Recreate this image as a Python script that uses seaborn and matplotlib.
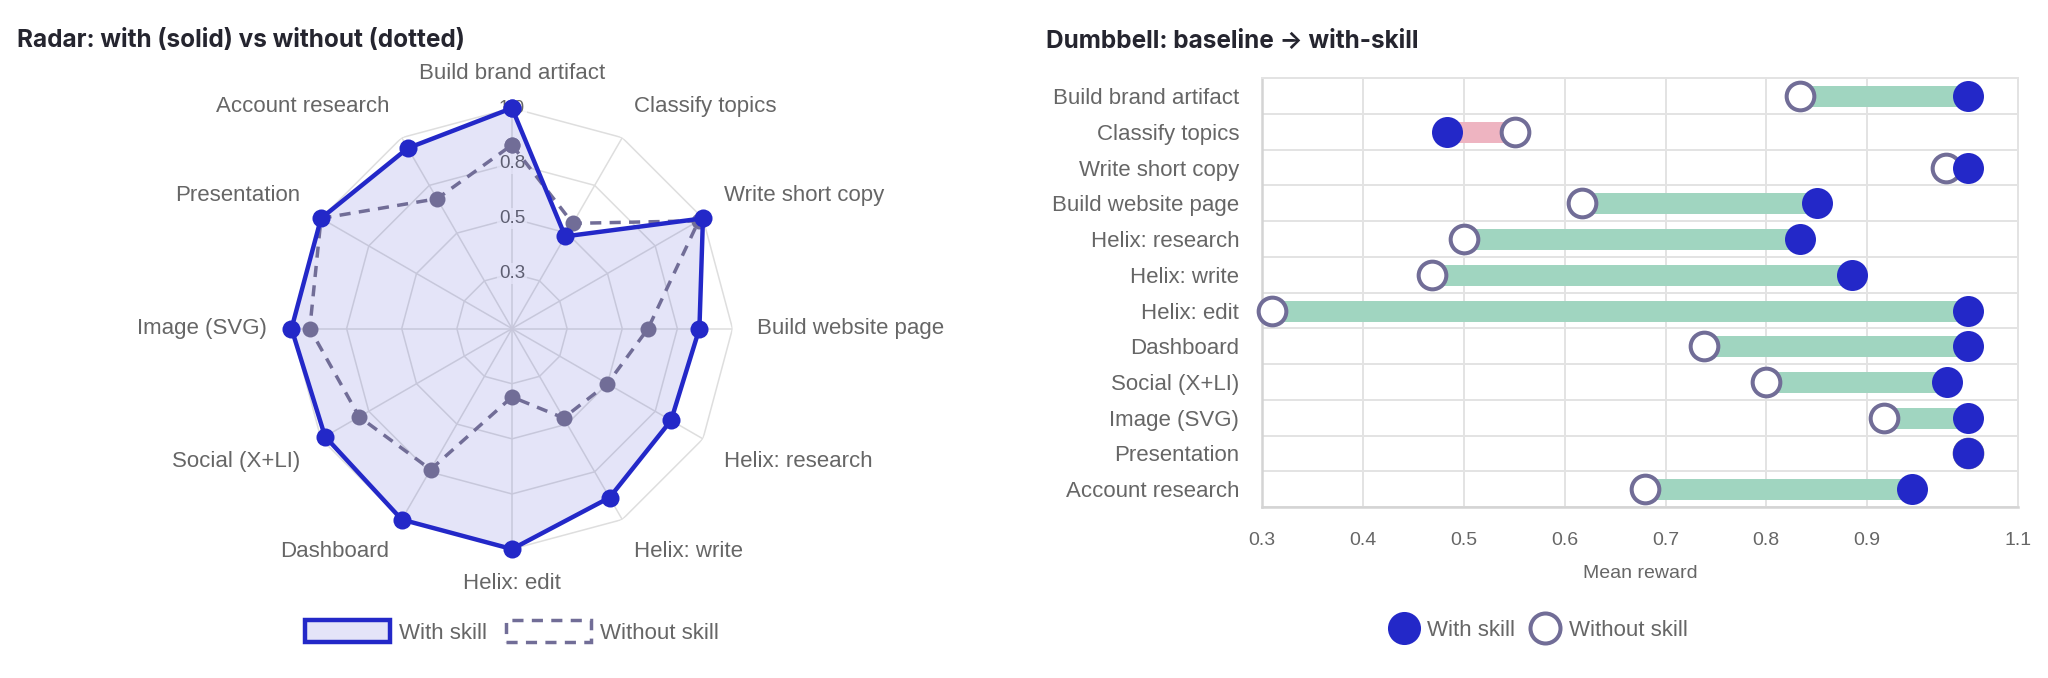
import numpy as np
import pandas as pd
import matplotlib.pyplot as plt
from matplotlib.lines import Line2D
from matplotlib.patches import Patch
from matplotlib.colors import to_rgba
import seaborn as sns

# Valores (orden horario desde arriba en el radar, de arriba abajo en el dumbbell)
tasks = ["Build brand artifact", "Classify topics", "Write short copy", "Build website page",
         "Helix: research", "Helix: write", "Helix: edit", "Dashboard",
         "Social (X+LI)", "Image (SVG)", "Presentation", "Account research"]
with_skill = [1.0, 0.483, 1.0, 0.85, 0.833, 0.885, 1.0, 1.0, 0.979, 1.0, 1.0, 0.945]
without_skill = [0.833, 0.551, 0.978, 0.617, 0.50, 0.468, 0.31, 0.738, 0.80, 0.917, 1.0, 0.68]
radial_ticks = [0.25, 0.5, 0.75, 1.0]
x_ticks = [0.3, 0.4, 0.5, 0.6, 0.7, 0.8, 0.9, 1.05]

BLUE = "#2328c8"
GREY = "#716d97"
GREEN = "#a0d5c0"
PINK = "#eeb4c1"
GRID = "#e3e3e3"
RGRID = "#dedede"
TXT = "#666666"
DASH = (0, (3.2, 2.4))


def fmt(v):
    # redondeo "half up" como en el navegador
    return f"{v + 1e-9:.1f}"


sns.set_theme(style="white")
plt.rcParams["font.family"] = ["Liberation Sans", "DejaVu Sans"]

fig = plt.figure(figsize=(20.48, 6.78), dpi=100)

# ---------------- Radar ----------------
ax = fig.add_axes([0.14233, 0.19012, 0.21533, 0.65044], projection="polar")
n = len(tasks)
theta = np.linspace(0, 2 * np.pi, n, endpoint=False)
theta_c = np.append(theta, theta[0])
with_c = with_skill + with_skill[:1]
without_c = without_skill + without_skill[:1]

ax.set_theta_zero_location("N")
ax.set_theta_direction(-1)
ax.set_ylim(0, 1)
ax.set_xticks([])
ax.set_yticks([])
ax.grid(False)
ax.spines["polar"].set_visible(False)

# rejilla poligonal
for r in radial_ticks:
    ax.plot(theta_c, [r] * (n + 1), color=RGRID, lw=1.1, zorder=0.5)
    ax.text(0, r, fmt(r), ha="center", va="center", fontsize=13.5, color=TXT, zorder=1,
            bbox=dict(boxstyle="square,pad=0.1", fc="white", ec="none", alpha=0.75))
for t in theta:
    ax.plot([t, t], [0, 1], color=RGRID, lw=1.1, zorder=0.5)

# etiquetas de los ejes
for t, lab in zip(theta, tasks):
    deg = np.degrees(t) % 360
    if deg < 1 or abs(deg - 180) < 1:
        ha = "center"
    elif deg < 180:
        ha = "left"
    else:
        ha = "right"
    if abs(deg - 90) < 1 or abs(deg - 270) < 1:
        va = "center"
    elif deg < 90 or deg > 270:
        va = "bottom"
    else:
        va = "top"
    ax.text(t, 1.11, lab, ha=ha, va=va, fontsize=16, color=TXT)

ax.fill(theta_c, with_c, color=BLUE, alpha=0.12, lw=0, zorder=1.5)
sns.lineplot(x=theta_c, y=without_c, sort=False, estimator=None, ax=ax, color=GREY,
             linewidth=2.5, linestyle=DASH, marker="o", markersize=11.5,
             markeredgewidth=0, clip_on=False, zorder=2)
sns.lineplot(x=theta_c, y=with_c, sort=False, estimator=None, ax=ax, color=BLUE,
             linewidth=3.2, marker="o", markersize=13, markeredgewidth=0,
             clip_on=False, zorder=3)

radar_handles = [
    Patch(facecolor=to_rgba(BLUE, 0.12), edgecolor=BLUE, linewidth=3.2, label="With skill"),
    Patch(facecolor="white", edgecolor=GREY, linewidth=2.5, linestyle=DASH, label="Without skill"),
]
fig.legend(handles=radar_handles, loc="center", bbox_to_anchor=(511.5 / 2048, 1 - 632 / 678),
           ncol=2, frameon=False, fontsize=16, handlelength=3.83, handleheight=1.13,
           handletextpad=0.4, columnspacing=0.85, labelcolor=TXT)

fig.text(17 / 2048, 1 - 41 / 678, "Radar: with (solid) vs without (dotted)", fontsize=17.5,
         fontweight="bold", family=["Inter", "DejaVu Sans"], color="#25252f", va="center")

# ---------------- Dumbbell ----------------
df = pd.DataFrame({"task": tasks, "with": with_skill, "without": without_skill})
bar_colors = [GREEN if w >= wo else PINK for w, wo in zip(df["with"], df["without"])]

ax2 = fig.add_axes([0.61636, 0.25221, 0.36914, 0.63230])
ax2.hlines(df["task"], df["without"], df["with"], colors=bar_colors, linewidth=15.1,
           capstyle="butt", zorder=2)
sns.scatterplot(data=df, x="without", y="task", ax=ax2, s=397, color="white",
                edgecolor=GREY, linewidth=2.9, zorder=3, clip_on=False)
sns.scatterplot(data=df, x="with", y="task", ax=ax2, s=498, color=BLUE,
                linewidth=0, zorder=4, clip_on=False)

ax2.set_xlim(0.3, 1.05)
ax2.set_ylim(n - 0.5, -0.5)
ax2.set_xticks(x_ticks, labels=[fmt(v) for v in x_ticks])
ax2.set_yticks(range(n), labels=tasks)
ax2.set_yticks(np.arange(n + 1) - 0.5, minor=True)
ax2.set_axisbelow(True)
ax2.grid(True, axis="x", which="major", color=GRID, lw=1.44)
ax2.grid(True, axis="y", which="minor", color=GRID, lw=1.44)
ax2.tick_params(axis="y", which="major", length=0, pad=16.6, labelsize=16, labelcolor=TXT)
ax2.tick_params(axis="y", which="minor", length=11.5, width=1.44, color=GRID)
ax2.tick_params(axis="x", which="major", length=11.5, width=1.44, color=GRID, pad=6.5,
                labelsize=14, labelcolor=TXT)
for side, sp in ax2.spines.items():
    sp.set_color("#d4d4d4" if side in ("left", "bottom") else GRID)
    sp.set_linewidth(1.8 if side in ("left", "bottom") else 1.44)
ax2.set_xlabel("Mean reward", fontsize=14, color=TXT, labelpad=11.5)
ax2.set_ylabel("")

dumb_handles = [
    Line2D([], [], ls="", marker="o", markersize=23.8, markerfacecolor=BLUE,
           markeredgewidth=0, label="With skill"),
    Line2D([], [], ls="", marker="o", markersize=21.6, markerfacecolor="white",
           markeredgecolor=GREY, markeredgewidth=2.9, label="Without skill"),
]
fig.legend(handles=dumb_handles, loc="center", bbox_to_anchor=(1537.5 / 2048, 1 - 630 / 678),
           ncol=2, frameon=False, fontsize=16, handlelength=1.5, handletextpad=0.3,
           columnspacing=0.6, labelcolor=TXT)

fig.text(1045.5 / 2048, 1 - 41 / 678, "Dumbbell: baseline \u2192 with-skill", fontsize=17.5,
         fontweight="bold", family=["Inter", "DejaVu Sans"], color="#25252f", va="center")

fig.savefig("out.png", dpi=100)
